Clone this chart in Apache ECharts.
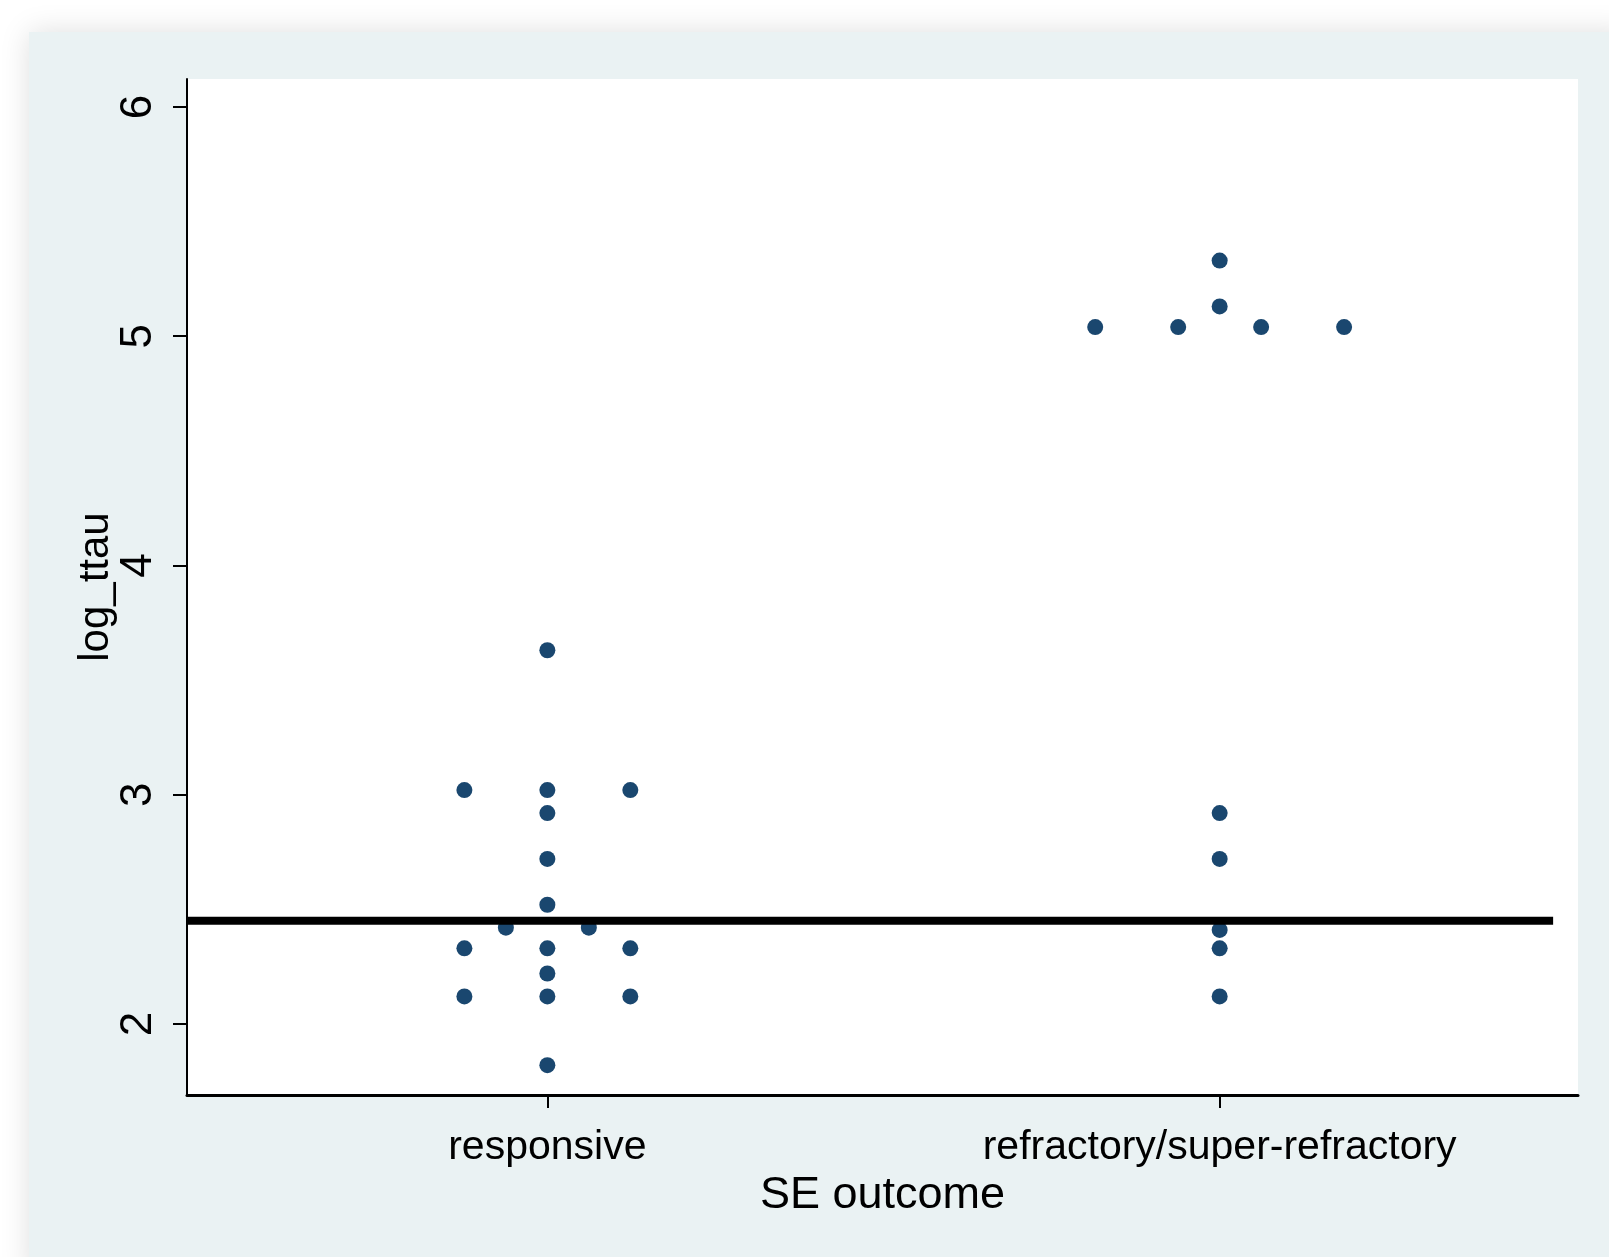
<!DOCTYPE html>
<html>
<head>
<meta charset="utf-8">
<script src="https://cdn.jsdelivr.net/npm/echarts@6/dist/echarts.min.js"></script>
<style>
  html, body { margin: 0; padding: 0; background: #ffffff; width: 1609px; height: 1257px; overflow: hidden; }
  #panel { position: absolute; left: 29px; top: 32px; width: 1600px; height: 1245px; background: #eaf2f3;
           box-shadow: 0 0 28px rgba(0,0,0,0.13); }
  #chart { position: absolute; left: 0; top: 0; width: 1609px; height: 1257px; }
</style>
</head>
<body>
<div id="panel"></div>
<div id="chart"></div>
<script>
// ---- data ----
const categories = ['responsive', 'refractory/super-refractory'];
const responsiveValues = [3.63, 3.02, 3.02, 3.02, 2.92, 2.72, 2.52, 2.42, 2.42, 2.33, 2.33, 2.33, 2.22, 2.12, 2.12, 2.12, 1.82];
const refractoryValues = [5.33, 5.13, 5.04, 5.04, 5.04, 5.04, 2.92, 2.72, 2.41, 2.33, 2.12];
const referenceLineValue = 2.45;
const referenceLineEnd = 1.496;
const yTicks = [2, 3, 4, 5, 6];
const xTicks = [0, 1];

// ---- dotplot layout: spread equal values sideways around the group position ----
const dotSpacing = 0.1234;
function dotplot(values, groupIndex) {
  const counts = {};
  values.forEach(v => { counts[v] = (counts[v] || 0) + 1; });
  const seen = {};
  return values.map(v => {
    const n = counts[v];
    const i = seen[v] || 0;
    seen[v] = i + 1;
    return [groupIndex + (i - (n - 1) / 2) * dotSpacing, v];
  });
}
const points = dotplot(responsiveValues, 0).concat(dotplot(refractoryValues, 1));

const xMin = -0.536, xMax = 1.533;
const yMin = 1.690, yMax = 6.122;
const FONT = "'Liberation Sans', Arial, sans-serif";

const chart = echarts.init(document.getElementById('chart'), null, { renderer: 'canvas' });
chart.setOption({
  backgroundColor: 'transparent',
  animation: false,
  grid: { left: 187, right: 31, top: 79, bottom: 162, show: true, backgroundColor: '#ffffff', borderWidth: 0 },
  xAxis: {
    type: 'value', min: xMin, max: xMax,
    name: 'SE outcome', nameLocation: 'middle', nameGap: 64,
    nameTextStyle: { fontFamily: FONT, fontSize: 45, color: '#000' },
    axisLine: { show: true, onZero: false, lineStyle: { color: '#000', width: 3 } },
    axisTick: { show: true, length: 13, lineStyle: { color: '#000', width: 2 }, customValues: xTicks },
    axisLabel: { show: true, margin: 32, fontFamily: FONT, fontSize: 41, color: '#000',
                 customValues: xTicks, formatter: v => categories[Math.round(v)] },
    splitLine: { show: false }
  },
  yAxis: {
    type: 'value', min: yMin, max: yMax,
    name: 'log_ttau', nameLocation: 'middle', nameGap: 70, nameRotate: 90, nameMoveOverlap: false,
    nameTextStyle: { fontFamily: FONT, fontSize: 42, color: '#000' },
    axisLine: { show: true, onZero: false, lineStyle: { color: '#000', width: 2 } },
    axisTick: { show: true, length: 14, lineStyle: { color: '#000', width: 2 }, customValues: yTicks },
    axisLabel: { show: true, rotate: 90, margin: 26, fontFamily: FONT, fontSize: 44, color: '#000',
                 customValues: yTicks, formatter: v => String(v) },
    splitLine: { show: false }
  },
  series: [
    {
      type: 'scatter', data: points, symbol: 'circle', symbolSize: 16,
      itemStyle: { color: '#1a476f', opacity: 1 }, z: 2
    },
    {
      type: 'line', data: [[xMin, referenceLineValue], [referenceLineEnd, referenceLineValue]],
      symbol: 'none', lineStyle: { color: '#000', width: 8 }, z: 3
    }
  ]
});
</script>
</body>
</html>
